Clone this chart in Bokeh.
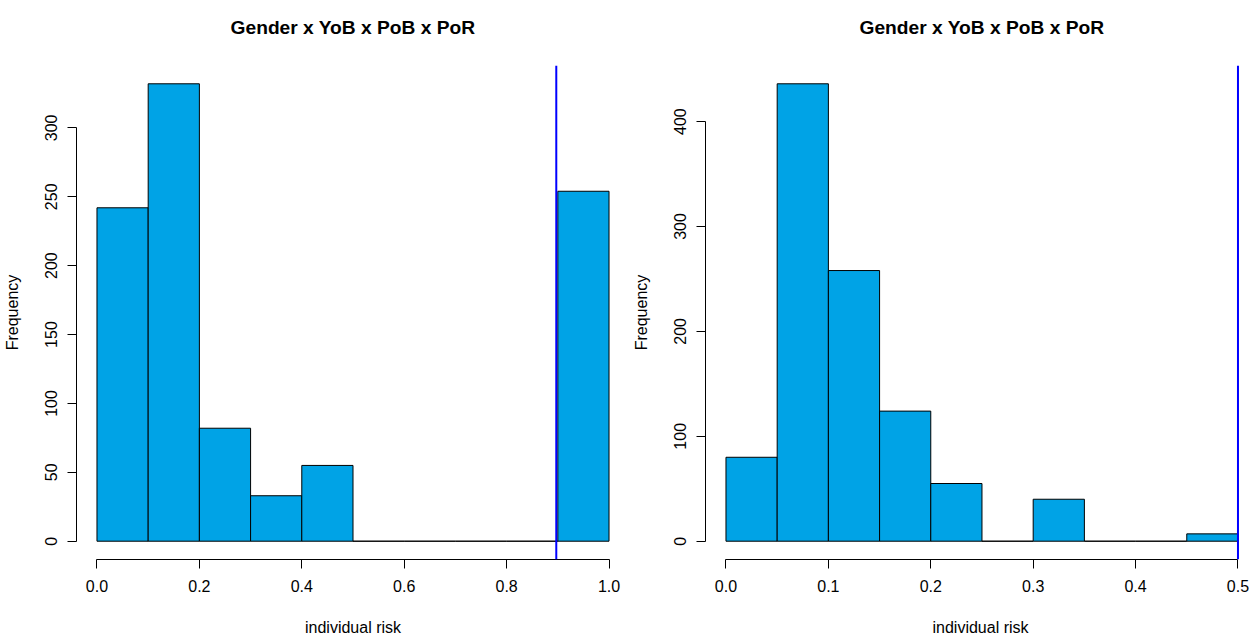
from bokeh.plotting import figure
from bokeh.models import FixedTicker, Span, Range1d
from bokeh.layouts import row
from bokeh.embed import file_html
from bokeh.resources import INLINE

FONT = "Liberation Sans"
TITLE = "Gender x YoB x PoB x PoR"
XLABEL = "individual risk"
YLABEL = "Frequency"
BAR_COLOR = "#00A3E6"
LINE_COLOR = "#0000FF"

# Left histogram
left_edges = [0.0, 0.1, 0.2, 0.3, 0.4, 0.5, 0.6, 0.7, 0.8, 0.9, 1.0]
left_counts = [242, 332, 82, 33, 55, 0, 0, 0, 0, 254]
left_threshold = 0.897
left_xticks = [0.0, 0.2, 0.4, 0.6, 0.8, 1.0]
left_xtick_labels = ["0.0", "0.2", "0.4", "0.6", "0.8", "1.0"]
left_yticks = [0, 50, 100, 150, 200, 250, 300]

# Right histogram
right_edges = [0.0, 0.05, 0.1, 0.15, 0.2, 0.25, 0.3, 0.35, 0.4, 0.45, 0.5]
right_counts = [80, 436, 258, 124, 55, 0, 40, 0, 0, 7]
right_threshold = 0.5
right_xticks = [0.0, 0.1, 0.2, 0.3, 0.4, 0.5]
right_xtick_labels = ["0.0", "0.1", "0.2", "0.3", "0.4", "0.5"]
right_yticks = [0, 100, 200, 300, 400]


def make_panel(edges, counts, threshold, xticks, xlabels, yticks,
               width, border_left, x_end, ylab_standoff, title_align, title_offset):
    data_span = edges[-1] - edges[0]
    ymax = max(counts)
    p = figure(width=width, height=640, output_backend="svg", toolbar_location=None,
               x_range=Range1d(edges[0] - 0.04 * data_span,
                               x_end if x_end is not None else edges[-1] + 0.04 * data_span),
               y_range=Range1d(-0.04 * ymax, 1.04 * ymax),
               min_border_left=border_left, min_border_right=0,
               min_border_top=65, min_border_bottom=81)
    p.quad(left=edges[:-1], right=edges[1:], top=counts, bottom=[0] * len(counts),
           fill_color=BAR_COLOR, line_color="black", line_width=1)
    p.add_layout(Span(location=threshold, dimension="height",
                      line_color=LINE_COLOR, line_width=2))
    p.xgrid.visible = False
    p.ygrid.visible = False
    p.outline_line_color = None
    p.background_fill_color = "white"
    p.border_fill_color = "white"

    # trailing line break lifts the title further above the frame
    p.title.text = TITLE + "\n"
    p.title.text_font = FONT
    p.title.text_font_size = "19.2px"
    p.title.text_font_style = "bold"
    p.title.text_color = "black"
    p.title.align = title_align
    p.title.offset = title_offset
    p.title.standoff = 14

    xa = p.xaxis[0]
    xa.ticker = FixedTicker(ticks=xticks)
    xa.major_label_overrides = {t: l for t, l in zip(xticks, xlabels)}
    xa.bounds = (xticks[0], xticks[-1])
    ya = p.yaxis[0]
    ya.ticker = FixedTicker(ticks=yticks)
    ya.bounds = (yticks[0], yticks[-1])
    ya.major_label_orientation = "vertical"
    xa.axis_label = XLABEL
    ya.axis_label = YLABEL
    xa.axis_label_standoff = 24
    ya.axis_label_standoff = ylab_standoff
    for ax in (xa, ya):
        ax.axis_line_color = "black"
        ax.axis_line_width = 1
        ax.major_tick_line_color = "black"
        ax.major_tick_out = 9
        ax.major_tick_in = 0
        ax.minor_tick_out = 0
        ax.minor_tick_in = 0
        ax.major_label_text_font = FONT
        ax.major_label_text_font_size = "16px"
        ax.major_label_text_color = "black"
        ax.axis_label_text_font = FONT
        ax.axis_label_text_font_size = "16px"
        ax.axis_label_text_font_style = "normal"
        ax.axis_label_text_color = "black"
    xa.major_label_standoff = 11
    ya.major_label_standoff = 10
    return p


p1 = make_panel(left_edges, left_counts, left_threshold, left_xticks, left_xtick_labels,
                left_yticks, 629, 76, None, 22, "center", 0)
p2 = make_panel(right_edges, right_counts, right_threshold, right_xticks, right_xtick_labels,
                right_yticks, 626, 76, -0.02 + 550 / 1024, 22, "left", 154)

layout = row(p1, p2)
open("out.html", "w").write(file_html(layout, INLINE))
